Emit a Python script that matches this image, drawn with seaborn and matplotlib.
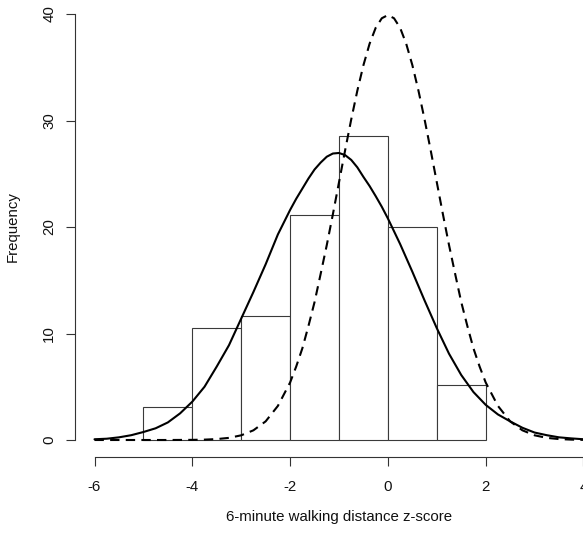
import numpy as np
import pandas as pd
import matplotlib
matplotlib.use("Agg")
import matplotlib.pyplot as plt
import seaborn as sns

# ---- data ----
bin_edges = [-5, -4, -3, -2, -1, 0, 1, 2]
bin_counts = [3.1, 10.5, 11.6, 21.1, 28.5, 20.0, 5.2]

# observed-distribution density curve (solid)
observed_x = [-6.0, -5.75, -5.5, -5.25, -5.0, -4.75, -4.5, -4.25, -4.0, -3.75,
              -3.5, -3.25, -3.0, -2.75, -2.5, -2.25, -2.0, -1.875, -1.75, -1.625,
              -1.5, -1.375, -1.25, -1.125, -1.0, -0.875, -0.75, -0.625, -0.5, -0.375,
              -0.25, -0.125, 0.0, 0.25, 0.5, 0.75, 1.0, 1.25,
              1.5, 1.75, 2.0, 2.25, 2.5, 2.75, 3.0, 3.25, 3.5, 3.75, 4.0]
observed_curve = [0.07, 0.12, 0.25, 0.45, 0.75, 1.1, 1.65, 2.5, 3.6, 5.0,
                  6.9, 8.9, 11.4, 13.9, 16.5, 19.3, 21.6, 22.65, 23.6, 24.55,
                  25.4, 26.05, 26.6, 26.9, 26.95, 26.75, 26.3, 25.6, 24.7, 23.85,
                  22.9, 21.9, 20.8, 18.4, 15.8, 13.1, 10.5, 8.1,
                  6.1, 4.5, 3.3, 2.4, 1.75, 1.15, 0.7, 0.45, 0.25, 0.15, 0.07]

# reference-population curve (dashed)
reference_x = [-6.0, -5.5, -5.0, -4.5, -4.0, -3.75, -3.5, -3.25, -3.0, -2.75,
               -2.5, -2.25, -2.0, -1.875, -1.75, -1.625, -1.5, -1.375, -1.25, -1.125,
               -1.0, -0.875, -0.75, -0.625, -0.5, -0.375, -0.25, -0.125, 0.0,
               0.125, 0.25, 0.375, 0.5, 0.625, 0.75, 0.875, 1.0, 1.125, 1.25,
               1.375, 1.5, 1.625, 1.75, 1.875, 2.0, 2.25, 2.5, 2.75, 3.0,
               3.25, 3.5, 3.75, 4.0]
reference_curve = [0.0, 0.0, 0.0, 0.0, 0.013, 0.035, 0.087, 0.2, 0.44, 0.91,
                   1.75, 3.2, 5.4, 6.9, 8.6, 10.7, 12.95, 15.6, 18.3, 21.2,
                   24.2, 27.2, 30.1, 32.8, 35.2, 37.2, 38.7, 39.6, 39.9,
                   39.6, 38.7, 37.2, 35.2, 32.8, 30.1, 27.2, 24.2, 21.2, 18.3,
                   15.6, 12.95, 10.7, 8.6, 6.9, 5.4, 3.2, 1.75, 0.91, 0.44,
                   0.2, 0.087, 0.035, 0.013]

x_ticks = [-6, -4, -2, 0, 2, 4]
y_ticks = [0, 10, 20, 30, 40]
x_label = "6-minute walking distance z-score"
y_label = "Frequency"

# ---- figure ----
sns.set_style("white")
plt.rcParams["font.family"] = ["Liberation Sans", "DejaVu Sans"]
plt.rcParams["lines.solid_joinstyle"] = "round"
plt.rcParams["lines.dash_joinstyle"] = "round"
FS = 10.8

W, H = 583, 535
fig = plt.figure(figsize=(W / 100, H / 100), dpi=100)

# plot region in pixels (R style, 4% padding around data range)
xlo, xhi = -6.4, 4.4
ylo, yhi = -1.6, 41.6
px_per_x = 48.9
px_per_y = 10.65
left_px = 94.5 - 0.4 * px_per_x
top_px = 440 - yhi * px_per_y
bottom_px = 440 - ylo * px_per_y
ax = fig.add_axes([left_px / W, 1 - bottom_px / H,
                   (xhi - xlo) * px_per_x / W, (bottom_px - top_px) / H])

centers = [(a + b) / 2 for a, b in zip(bin_edges[:-1], bin_edges[1:])]
hist_df = pd.DataFrame({"z": centers, "n": bin_counts})
sns.histplot(data=hist_df, x="z", weights="n", bins=bin_edges, ax=ax,
             color="white", edgecolor="#3a3a3a", linewidth=0.8, alpha=1.0)

obs_df = pd.DataFrame({"x": observed_x, "y": observed_curve})
ref_df = pd.DataFrame({"x": reference_x, "y": reference_curve})
sns.lineplot(data=obs_df, x="x", y="y", ax=ax, color="black", lw=1.5)
sns.lineplot(data=ref_df, x="x", y="y", ax=ax, color="black", lw=1.5)
ax.lines[-1].set_dashes([4.5, 3])

ax.set_xlim(xlo, xhi)
ax.set_ylim(ylo, yhi)
ax.set_xticks(x_ticks)
ax.set_yticks(y_ticks)
ax.set_xticklabels([str(t) for t in x_ticks], fontsize=FS)
ax.set_yticklabels([str(t) for t in y_ticks], fontsize=FS, rotation=90, va="center")

for s in ["top", "right"]:
    ax.spines[s].set_visible(False)
for s in ["left", "bottom"]:
    ax.spines[s].set_color("#333333")
    ax.spines[s].set_linewidth(0.8)
ax.spines["left"].set_bounds(0, 40)
ax.spines["bottom"].set_bounds(-6, 4)
ax.tick_params(axis="both", which="major", direction="out", length=6.5, width=0.8,
               color="#333333", labelcolor="#111111",
               bottom=True, left=True, top=False, right=False)
ax.tick_params(axis="x", pad=10.0)
ax.tick_params(axis="y", pad=7.0)
ax.grid(False)

ax.set_xlabel(x_label, fontsize=FS, color="#111111", labelpad=11.5)
ax.set_ylabel(y_label, fontsize=FS, color="#111111", labelpad=16)

fig.savefig("out.png", dpi=100, facecolor="white")
